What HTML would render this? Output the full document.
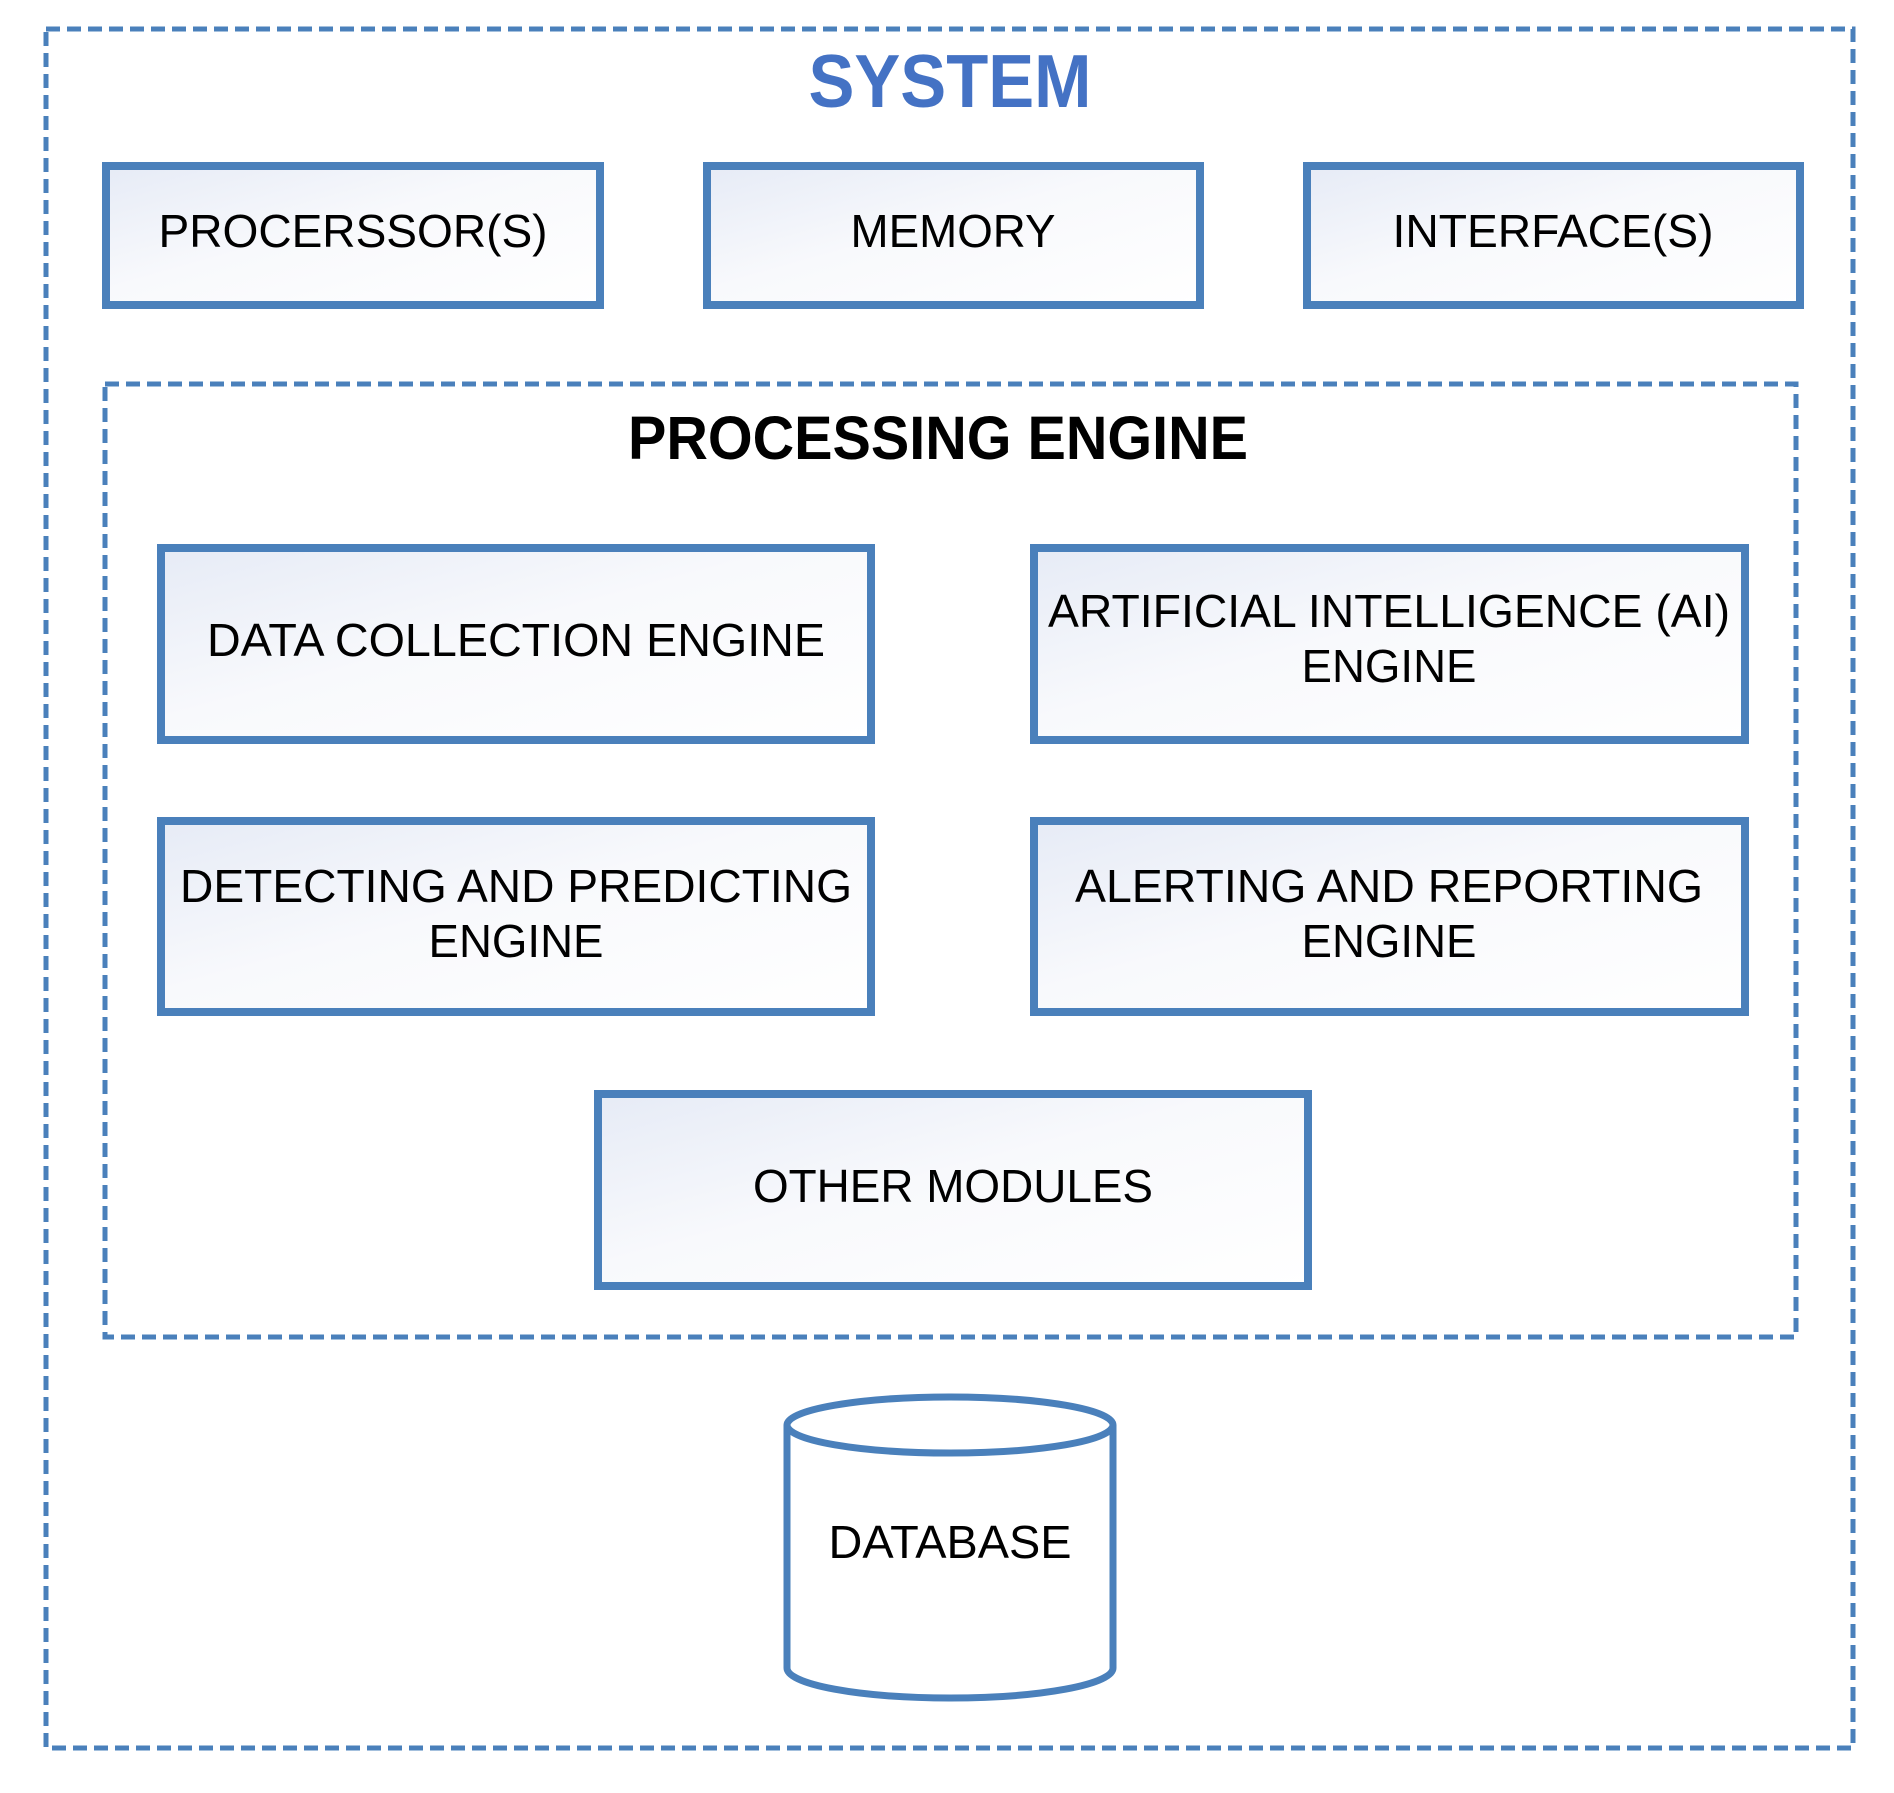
<!DOCTYPE html>
<html><head><meta charset="utf-8"><style>html,body{margin:0;padding:0;background:#fff}svg{display:block}</style></head>
<body>
<svg width="1894" height="1793" viewBox="0 0 1894 1793" xmlns="http://www.w3.org/2000/svg" font-family="'Liberation Sans', Arial, sans-serif">
<defs>
<linearGradient id="g" x1="0" y1="0" x2="1" y2="1">
<stop offset="0" stop-color="#e6ebf6"/><stop offset="0.45" stop-color="#f8f9fc"/><stop offset="1" stop-color="#ffffff"/>
</linearGradient>
</defs>
<rect x="46" y="29" width="1807" height="1719" fill="none" stroke="#4a80bb" stroke-width="5" stroke-dasharray="14 7"/>
<rect x="105" y="384" width="1691" height="953" fill="none" stroke="#4a80bb" stroke-width="5" stroke-dasharray="14 7"/>
<text x="950" y="107" font-size="75" font-weight="bold" fill="#4472c4" text-anchor="middle" textLength="283" lengthAdjust="spacingAndGlyphs">SYSTEM</text>
<text x="938" y="459" font-size="61" font-weight="bold" fill="#000" text-anchor="middle" textLength="620" lengthAdjust="spacingAndGlyphs">PROCESSING ENGINE</text>
<g fill="url(#g)" stroke="#4a80bb" stroke-width="8">
<rect x="106" y="166" width="494" height="139"/>
<rect x="707" y="166" width="493" height="139"/>
<rect x="1307" y="166" width="493" height="139"/>
<rect x="161" y="548" width="710" height="192"/>
<rect x="1034" y="548" width="711" height="192"/>
<rect x="161" y="821" width="710" height="191"/>
<rect x="1034" y="821" width="711" height="191"/>
<rect x="598" y="1094" width="710" height="192"/>
</g>
<g font-size="46" fill="#000" text-anchor="middle">
<text x="353" y="247" textLength="389" lengthAdjust="spacingAndGlyphs">PROCERSSOR(S)</text>
<text x="953" y="247" textLength="205" lengthAdjust="spacingAndGlyphs">MEMORY</text>
<text x="1553" y="247" textLength="321" lengthAdjust="spacingAndGlyphs">INTERFACE(S)</text>
<text x="516" y="656" textLength="618" lengthAdjust="spacingAndGlyphs">DATA COLLECTION ENGINE</text>
<text x="1389" y="627" textLength="682" lengthAdjust="spacingAndGlyphs">ARTIFICIAL INTELLIGENCE (AI)</text>
<text x="1389" y="682" textLength="175" lengthAdjust="spacingAndGlyphs">ENGINE</text>
<text x="516" y="902" textLength="672" lengthAdjust="spacingAndGlyphs">DETECTING AND PREDICTING</text>
<text x="516" y="957" textLength="175" lengthAdjust="spacingAndGlyphs">ENGINE</text>
<text x="1389" y="902" textLength="628" lengthAdjust="spacingAndGlyphs">ALERTING AND REPORTING</text>
<text x="1389" y="957" textLength="175" lengthAdjust="spacingAndGlyphs">ENGINE</text>
<text x="953" y="1202" textLength="400" lengthAdjust="spacingAndGlyphs">OTHER MODULES</text>
</g>
<g fill="#fff" stroke="#4a80bb" stroke-width="7">
<path d="M787 1425 L787 1668 A163 30 0 0 0 1113 1668 L1113 1425"/>
<ellipse cx="950" cy="1425" rx="163" ry="28"/>
</g>
<text x="950" y="1558" font-size="46" fill="#000" text-anchor="middle" textLength="243" lengthAdjust="spacingAndGlyphs">DATABASE</text>
</svg>
</body></html>
